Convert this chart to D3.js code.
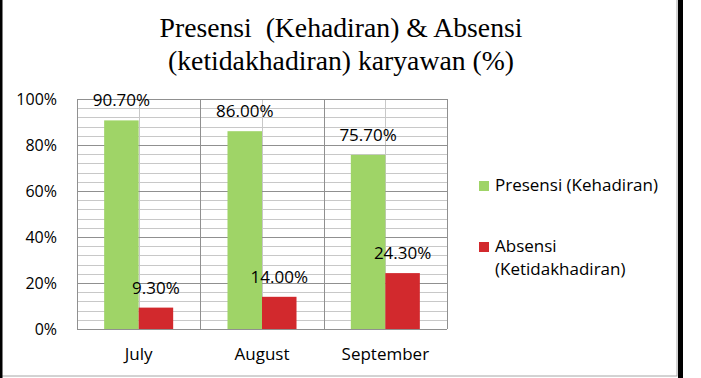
<!DOCTYPE html>
<html>
<head>
<meta charset="utf-8">
<script src="https://cdn.jsdelivr.net/npm/d3@7"></script>
<style>
  body { margin: 0; background: #fff; }
  svg { display: block; }
  .axis-label { font-family: 'Open Sans', sans-serif; font-size: 17px; fill: #000; }
  .y-label { font-size: 16px; }
  .title { font-family: 'Liberation Serif', 'Times New Roman', serif; font-size: 27.7px; fill: #000; }
</style>
</head>
<body>
<svg id="chart"></svg>
<script>
const categories = ['July', 'August', 'September'];
const seriesNames = ['Presensi (Kehadiran)', 'Absensi (Ketidakhadiran)'];
const presensi = [90.7, 86.0, 75.7];
const absensi = [9.3, 14.0, 24.3];
const yTicks = [0, 20, 40, 60, 80, 100];
const colors = ['#9fd467', '#d2292d'];

const W = 701;
const H = 378;
const PLOT = { left: 77, right: 447, top: 99, bottom: 329 };

const svg = d3.select('#chart').attr('width', W).attr('height', H);

// frame
svg.append('rect')
  .attr('x', 1.5).attr('y', -2)
  .attr('width', 675.5).attr('height', 378)
  .style('fill', 'none').style('stroke', '#a6a6a6').style('stroke-width', 1);
svg.append('rect').attr('x', 0).attr('y', 0).attr('width', 2.5).attr('height', H).style('fill', '#000');
svg.append('rect').attr('x', 678).attr('y', 0).attr('width', 5).attr('height', H).style('fill', '#000');

// title
const title = svg.append('text').attr('class', 'title').attr('text-anchor', 'middle');
title.append('tspan').attr('x', 341).attr('y', 37).text('Presensi\u00a0 (Kehadiran) & Absensi');
title.append('tspan').attr('x', 341).attr('y', 70).text('(ketidakhadiran) karyawan (%)');

const x = d3.scaleBand().domain(categories).range([PLOT.left, PLOT.right]);
const xs = d3.scaleBand().domain(seriesNames).range([0, x.bandwidth()]).paddingOuter(0.787);
const y = d3.scaleLinear().domain([0, 100]).range([PLOT.bottom, PLOT.top]);

const g = svg.append('g');

// minor horizontal gridlines every 4%
g.selectAll('.minor-h')
  .data(d3.range(0, 101, 4).filter(v => v % 20 !== 0))
  .enter().append('line')
  .attr('x1', PLOT.left).attr('x2', PLOT.right)
  .attr('y1', d => Math.round(y(d)) + 0.5).attr('y2', d => Math.round(y(d)) + 0.5)
  .style('stroke', '#c8c8c8');

// minor vertical gridlines in the middle of each category
g.selectAll('.minor-v')
  .data(categories)
  .enter().append('line')
  .attr('x1', d => Math.round(x(d) + x.bandwidth() / 2) + 0.5)
  .attr('x2', d => Math.round(x(d) + x.bandwidth() / 2) + 0.5)
  .attr('y1', PLOT.top).attr('y2', PLOT.bottom)
  .style('stroke', '#c8c8c8');

// major gridlines
g.selectAll('.major-h')
  .data(yTicks)
  .enter().append('line')
  .attr('x1', PLOT.left).attr('x2', PLOT.right)
  .attr('y1', d => Math.round(y(d)) + 0.5).attr('y2', d => Math.round(y(d)) + 0.5)
  .style('stroke', '#909090');

g.selectAll('.major-v')
  .data(categories.map(c => x(c)).concat([PLOT.right]))
  .enter().append('line')
  .attr('x1', d => Math.round(d) + 0.5).attr('x2', d => Math.round(d) + 0.5)
  .attr('y1', PLOT.top).attr('y2', PLOT.bottom)
  .style('stroke', '#909090');

// bars
const series = [presensi, absensi];
series.forEach((values, si) => {
  const grp = svg.append('g');
  grp.selectAll('rect')
    .data(values)
    .enter().append('rect')
    .attr('x', (d, i) => x(categories[i]) + xs(seriesNames[si]))
    .attr('width', xs.bandwidth())
    .attr('y', d => y(d))
    .attr('height', d => y(0) - y(d))
    .style('fill', colors[si]);

  grp.selectAll('text')
    .data(values)
    .enter().append('text')
    .attr('class', 'axis-label')
    .attr('text-anchor', 'middle')
    .attr('x', (d, i) => x(categories[i]) + xs(seriesNames[si]) + xs.bandwidth() / 2)
    .attr('y', d => y(d) - 14)
    .text(d => d.toFixed(2) + '%');
});

// y axis labels
const yAxis = svg.append('g')
  .attr('transform', `translate(${PLOT.left - 20}, 0)`)
  .call(d3.axisLeft(y).tickValues(yTicks).tickSize(0).tickFormat(d => d + '%'));
yAxis.select('.domain').remove();
yAxis.selectAll('text').attr('class', 'axis-label y-label').attr('x', 0).attr('dy', '0.36em');
yAxis.attr('font-family', null).attr('font-size', null);

// x axis labels
const xAxis = svg.append('g')
  .attr('transform', `translate(0, ${PLOT.bottom})`)
  .call(d3.axisBottom(x).tickSize(0));
xAxis.select('.domain').remove();
xAxis.selectAll('text').attr('class', 'axis-label').attr('y', 31).attr('dy', 0);
xAxis.attr('font-family', null).attr('font-size', null);

// legend
const legend = svg.append('g');
const legendRows = [
  { y: 181, lines: ['Presensi (Kehadiran)'] },
  { y: 242, lines: ['Absensi', '(Ketidakhadiran)'] }
];
legendRows.forEach((row, i) => {
  legend.append('rect')
    .attr('x', 479).attr('y', row.y)
    .attr('width', 10).attr('height', 10)
    .style('fill', colors[i]);
  const t = legend.append('text').attr('class', 'axis-label');
  row.lines.forEach((line, li) => {
    t.append('tspan').attr('x', 495).attr('y', row.y + 10 + li * 23).text(line);
  });
});
</script>
</body>
</html>
